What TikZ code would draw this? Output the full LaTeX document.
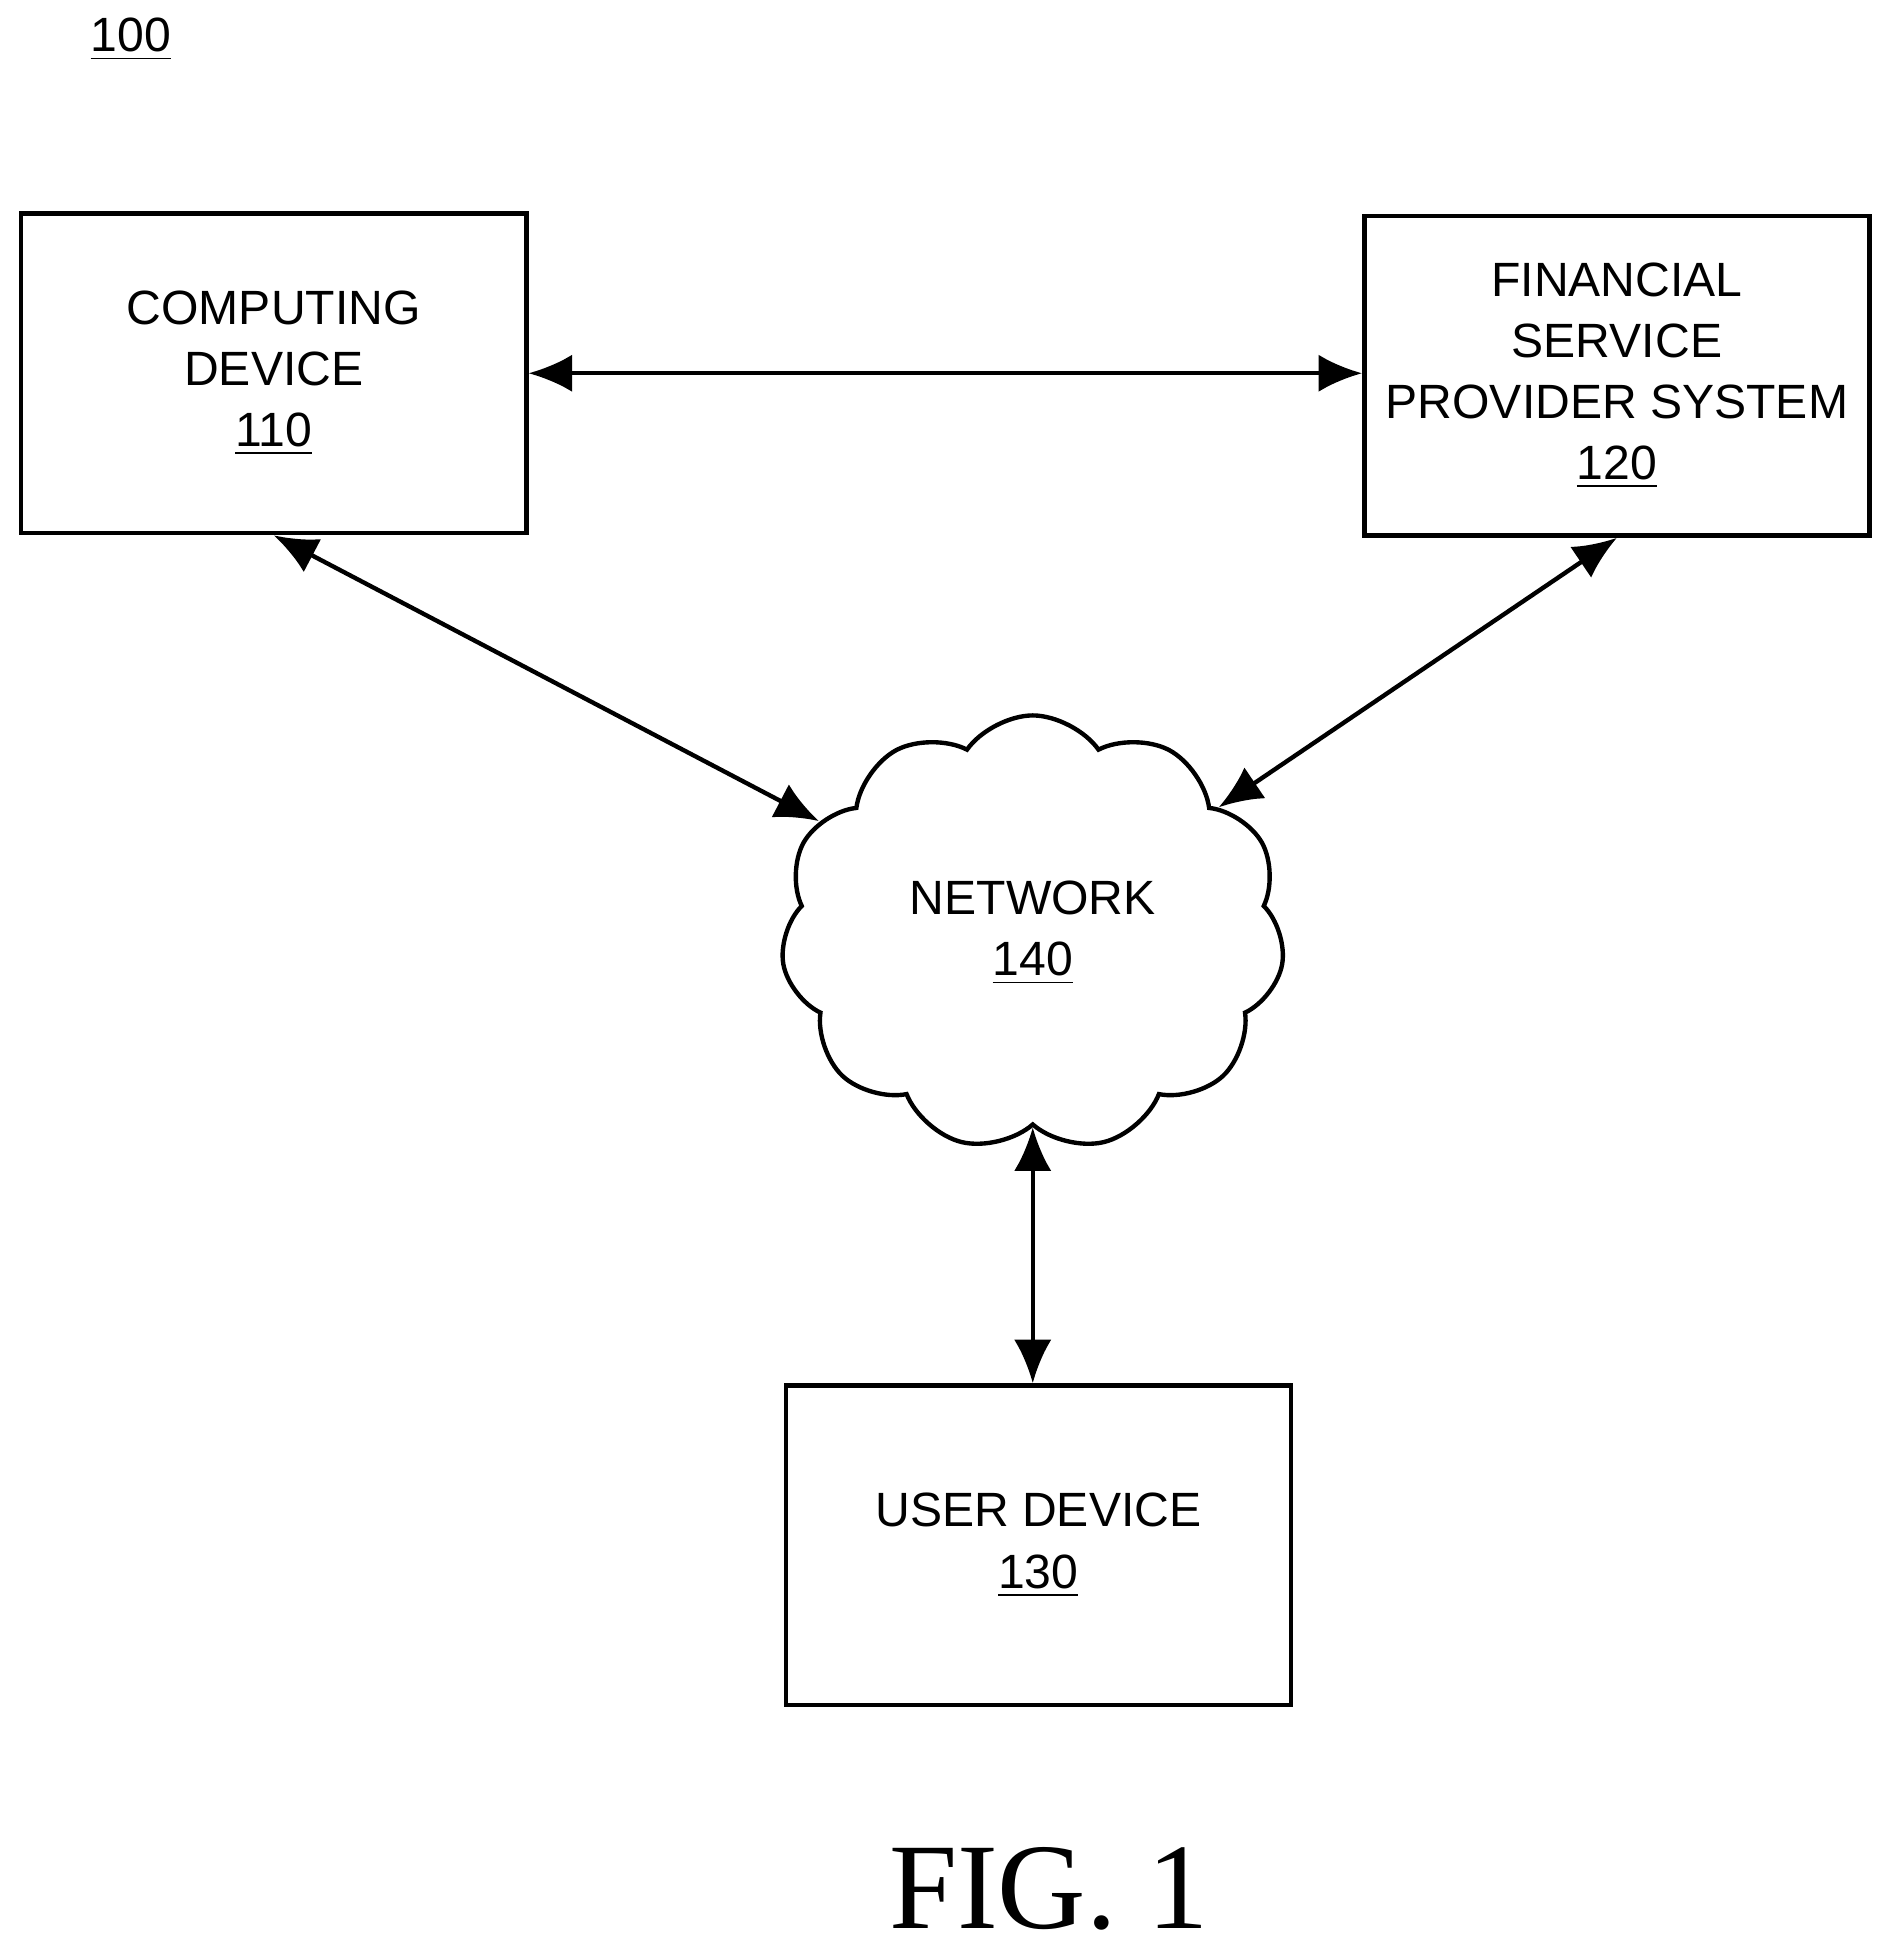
\documentclass[tikz,border=0pt]{standalone}
\usepackage{fontspec}
\setmainfont{Liberation Serif}
\setsansfont{Liberation Sans}
\usetikzlibrary{shapes.symbols, arrows.meta}

\tikzset{
  box/.style={
    rectangle, draw, line width=1pt, minimum width=4.06cm, minimum height=2.57cm,
    inner sep=1pt, align=center, font=\sffamily\fontsize{11}{14}\selectfont
  },
  link/.style={
    {Latex[length=3.5mm,width=3mm]}-{Latex[length=3.5mm,width=3mm]}, line width=1pt
  },
}

\begin{document}
\begin{tikzpicture}
    \useasboundingbox (0,0) rectangle (15.2,15.68);
    \node[font=\sffamily\fontsize{11}{14}\selectfont] (fig) at(1.05,15.36) {\underline{100}};
    \node[box] (cd) at(2.2,12.68) {COMPUTING\\DEVICE\\\underline{110}};
    \node[box] (fs) at(12.995,12.66) {FINANCIAL\\SERVICE\\PROVIDER SYSTEM\\\underline{120}};
    \node[box] (ud) at(8.345,3.26) {USER DEVICE\\\underline{130}};
    \node[cloud, draw, line width=1pt, cloud puffs=11, cloud puff arc=110, aspect=1.15,
      minimum width=4.05cm, minimum height=3.5cm, align=center,
      font=\sffamily\fontsize{11}{14}\selectfont] (net) at(8.3,8.18) {NETWORK\\\underline{140}};
    \node[font=\fontsize{28}{32}\selectfont] (cap) at(8.43,0.5) {FIG. 1};
    \draw[link] (cd.east) -- (fs.west |- cd.east);
    \draw[link] (cd.south) -- (net);
    \draw[link] (fs.south) -- (net);
    \draw[link] (net.south) -- (ud.north -| net.south);
\end{tikzpicture}
\end{document}
